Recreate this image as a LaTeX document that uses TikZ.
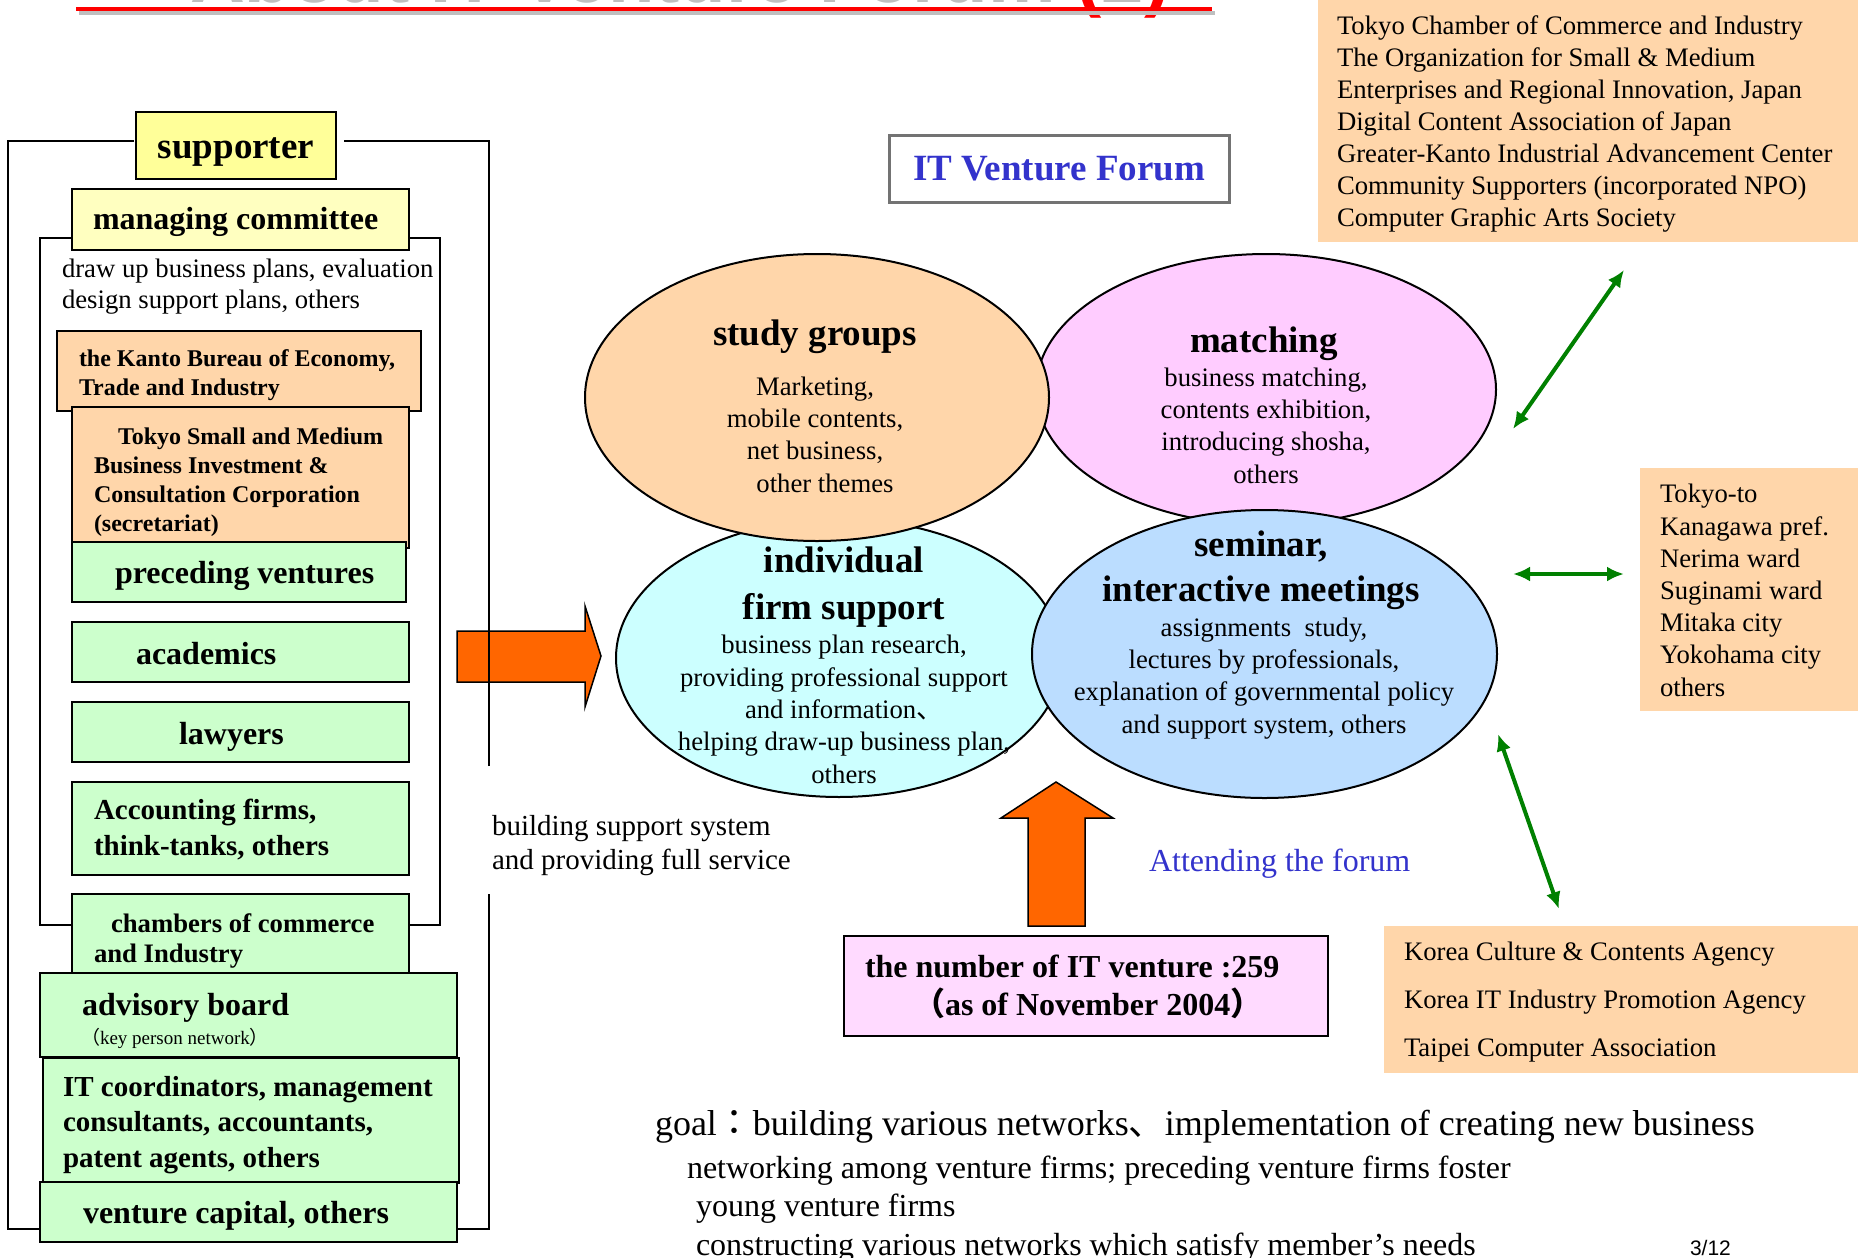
\documentclass[tikz,border=0pt]{standalone}
\usepackage{fontspec}
\setmainfont{Liberation Serif}
\newfontfamily\cjkfont{Noto Sans CJK JP}
\newfontfamily\arialfont{Liberation Sans}
\usetikzlibrary{shapes.geometric,arrows.meta}
\definecolor{supyellow}{HTML}{FFFF99}
\definecolor{comyellow}{HTML}{FFFFC0}
\definecolor{peach}{HTML}{FFD6AA}
\definecolor{mint}{HTML}{CCFFCC}
\definecolor{pinkish}{HTML}{FFCCFF}
\definecolor{lightpink}{HTML}{FFDAFF}
\definecolor{aqua}{HTML}{CCFFFF}
\definecolor{skyblue}{HTML}{BBDDFF}
\definecolor{orangefill}{HTML}{FF6600}
\definecolor{arrowgreen}{HTML}{008000}
\definecolor{forumblue}{HTML}{3333CC}

\begin{document}
\begin{tikzpicture}[x=1pt, y=-1pt,
  every node/.style={inner sep=0pt, outer sep=0pt},
  box/.style={draw, line width=2.5pt, anchor=north west},
  plainbox/.style={fill=peach, anchor=north west},
  bubble/.style={ellipse, draw, line width=2pt},
  rim/.style={line width=2pt},
  link/.style={{Latex[length=17pt,width=15pt]}-{Latex[length=17pt,width=15pt]}, arrowgreen, line width=4pt},
  bigarrow/.style={fill=orangefill, line width=1.5pt},
  txt/.style={anchor=base west, align=left},
  ctxt/.style={anchor=base, align=center},
  b37/.style={font=\fontsize{37}{45}\selectfont\bfseries},
  b32/.style={font=\fontsize{32}{38}\selectfont\bfseries},
  b29/.style={font=\fontsize{29}{35.5}\selectfont\bfseries},
  b27/.style={font=\fontsize{26.7}{30}\selectfont\bfseries},
  b24/.style={font=\fontsize{24}{29}\selectfont\bfseries},
  body/.style={font=\fontsize{26.7}{32.3}\selectfont}]

\path[use as bounding box, fill=white] (0,0) rectangle (1858,1258);

% Title (cut off at the top)
  \begin{scope}
  \clip (0,0) rectangle (1858,1258);
  \node[anchor=base west, text=black!25, font=\arialfont\bfseries\fontsize{76}{80}\selectfont] (title) at (190,2) {About IT Venture Forum \textcolor{red}{(}2\textcolor{red}{)}};
  \end{scope}
  \draw[black!25, line width=4pt] (79,13) -- (1215,13);
  \draw[red, line width=4pt] (76,9) -- (1212,9);

% Arrow into the forum
  \draw[bigarrow] (457,631) -- (585,631) -- (585,606) -- (601,656) -- (585,707) -- (585,682) -- (457,682) -- cycle;

% Supporter frames
  \draw[rim] (134,141) -- (8,141) -- (8,1229) -- (489,1229) -- (489,894);
  \draw[rim] (489,766) -- (489,141) -- (344,141);
  \draw[rim] (40,238) rectangle (440,925);

% Supporter boxes
  \node[box, fill=supyellow, minimum width=200pt, minimum height=67pt] (sup) at (136,112) {};
  \node[box, fill=comyellow, minimum width=337pt, minimum height=61pt] (mgmt) at (72,189) {};
  \node[box, fill=peach, minimum width=364pt, minimum height=80pt] (kanto) at (57,331) {};
  \node[box, fill=peach, minimum width=337pt, minimum height=141pt] (tsmb) at (72,407) {};
  \node[box, fill=mint, minimum width=334pt, minimum height=60pt] (prec) at (72,542) {};
  \node[box, fill=mint, minimum width=337pt, minimum height=60pt] (acad) at (72,622) {};
  \node[box, fill=mint, minimum width=337pt, minimum height=60pt] (law) at (72,702) {};
  \node[box, fill=mint, minimum width=337pt, minimum height=93pt] (acct) at (72,782) {};
  \node[box, fill=mint, minimum width=337pt, minimum height=79pt] (chamb) at (72,894) {};
  \node[box, fill=mint, minimum width=417pt, minimum height=84pt] (adv) at (40,973) {};
  \node[box, fill=mint, minimum width=416pt, minimum height=125pt] (itc) at (43,1058) {};
  \node[box, fill=mint, minimum width=417pt, minimum height=60pt] (vc) at (40,1182) {};

  \node[ctxt, b37] (suptx) at (236,158) {supporter};
  \node[txt, b32] (mgmttx) at (93,229) {managing committee};
  \node[txt, font=\fontsize{26.7}{31}\selectfont] (plans) at (62,308) {draw up business plans, evaluation\\design support plans, others};
  \node[txt, b24] (kantotx) at (79,395) {the Kanto Bureau of Economy,\\Trade and Industry};
  \node[txt, b24] (tsmbtx) at (94,531) {\hspace*{24pt}Tokyo Small and Medium\\Business Investment \&\\Consultation Corporation\\(secretariat)};
  \node[txt, b32] (prectx) at (115,583) {preceding ventures};
  \node[txt, b32] (acadtx) at (136,664) {academics};
  \node[txt, b32] (lawtx) at (179,744) {lawyers};
  \node[txt, b29] (accttx) at (94,855) {Accounting firms,\\think-tanks, others};
  \node[txt, b27] (chambtx) at (94,962) {\hspace*{17pt}chambers of commerce\\and Industry};
  \node[txt, b32] (advtx) at (82,1015) {advisory board};
  \node[txt, font=\fontsize{19}{22}\selectfont] (keytx) at (81,1044) {{\cjkfont （}key person network{\cjkfont ）}};
  \node[txt, b29] (itctx) at (63,1167) {IT coordinators, management\\consultants, accountants,\\patent agents, others};
  \node[txt, b32] (vctx) at (83,1223) {venture capital, others};

  \node[txt, font=\fontsize{29}{34}\selectfont] (buildtx) at (492,869) {building support system\\and providing full service};

% Forum
  \node[draw=black!55, line width=3pt, minimum width=340pt, minimum height=67pt, text=forumblue, font=\fontsize{37}{44}\selectfont\bfseries] (ivf) at (1059,168.5) {IT Venture Forum};

  \node[bubble, fill=aqua, minimum width=446pt, minimum height=278pt] (indiv) at (839,658) {};
  \node[bubble, fill=pinkish, minimum width=460pt, minimum height=271pt] (match) at (1266,389.5) {};
  \node[bubble, fill=peach, minimum width=464pt, minimum height=287pt] (study) at (817,397.5) {};
  \node[bubble, fill=skyblue, minimum width=465pt, minimum height=288pt] (semi) at (1264.5,654) {};

  \node[ctxt, b37] (studyhd) at (815,345) {study groups};
  \node[ctxt, body] (studytx) at (815,492) {Marketing,\\mobile contents,\\net business,\\\hspace*{20pt}other themes};
  \node[ctxt, b37] (matchhd) at (1264,352) {matching};
  \node[ctxt, body] (matchtx) at (1266,483) {business matching,\\contents exhibition,\\introducing shosha,\\others};
  \node[ctxt, font=\fontsize{37}{47}\selectfont\bfseries] (indivhd) at (844,619) {individual\\firm support};
  \node[ctxt, body] (indivtx) at (844,783) {business plan research,\\providing professional support\\and information{\cjkfont 、}\\helping draw-up business plan,\\others};
  \node[ctxt, font=\fontsize{37}{45}\selectfont\bfseries] (semihd) at (1261,601) {seminar,\\interactive meetings};
  \node[ctxt, body] (semitx) at (1264,733) {assignments\ \ study,\\lectures by professionals,\\explanation of governmental policy\\and support system, others};

% Attending ventures
  \draw[bigarrow] (1028,926) -- (1028,818) -- (1001,818) -- (1056,782) -- (1113,818) -- (1085,818) -- (1085,926) -- cycle;
  \node[box, fill=lightpink, minimum width=484pt, minimum height=100pt] (count) at (844,936) {};
  \node[txt, b32] (counttx) at (865,1015) {the number of IT venture :259\\\hspace*{48pt}{\cjkfont （}as of November 2004{\cjkfont ）}};
  \node[txt, text=forumblue, font=\fontsize{32}{38}\selectfont] (attend) at (1149,871) {Attending the forum};

% Partner organisations
  \node[plainbox, minimum width=540pt, minimum height=242pt] (orgs) at (1318,0) {};
  \node[plainbox, minimum width=218pt, minimum height=243pt] (local) at (1640,468) {};
  \node[plainbox, minimum width=474pt, minimum height=147pt] (asia) at (1384,926) {};

  \node[txt, font=\fontsize{26.7}{32}\selectfont] (orgstx) at (1337,226) {Tokyo Chamber of Commerce and Industry\\The Organization for Small \& Medium\\Enterprises and Regional Innovation, Japan\\Digital Content Association of Japan\\Greater-Kanto Industrial Advancement Center\\Community Supporters (incorporated NPO)\\Computer Graphic Arts Society};
  \node[txt, font=\fontsize{26.7}{32.2}\selectfont] (localtx) at (1660,696) {Tokyo-to\\Kanagawa pref.\\Nerima ward\\Suginami ward\\Mitaka city\\Yokohama city\\others};
  \node[txt, font=\fontsize{26.7}{48}\selectfont] (asiatx) at (1404,1056) {Korea Culture \& Contents Agency\\Korea IT Industry Promotion Agency\\Taipei Computer Association};

% Links
  \coordinate (orgsend) at (1624,270);
  \coordinate (matchend) at (1513,429);
  \coordinate (localend) at (1624,574);
  \coordinate (semiend) at (1513,574);
  \coordinate (semilow) at (1498,734);
  \coordinate (asiaend) at (1559,909);
  \draw[link] (matchend) -- (orgsend);
  \draw[link] (semiend) -- (localend);
  \draw[link] (semilow) -- (asiaend);

% Goal
  \node[txt, font=\fontsize{36}{40}\selectfont] (goal) at (655,1135) {goal{\cjkfont ：}building various networks{\cjkfont 、}implementation of creating new business};
  \node[txt, font=\fontsize{32}{38.5}\selectfont] (goalone) at (687,1178) {networking among venture firms; preceding venture firms foster};
  \node[txt, font=\fontsize{32}{39}\selectfont] (goaltwo) at (696,1255) {young venture firms\\constructing various networks which satisfy member’s needs};
  \node[txt, font=\arialfont\fontsize{21}{24}\selectfont] (page) at (1690,1255) {3/12};

\end{tikzpicture}
\end{document}
